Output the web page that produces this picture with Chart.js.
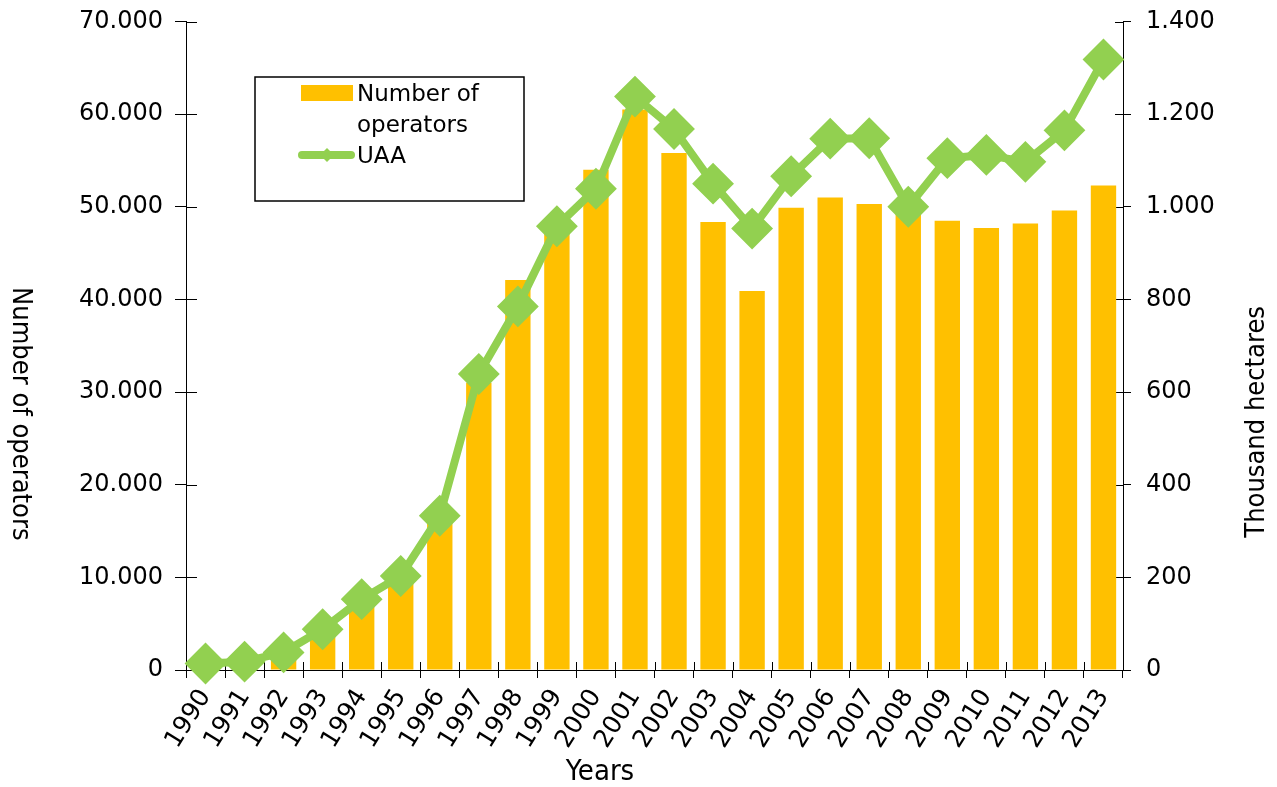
<!DOCTYPE html>
<html>
<head>
<meta charset="utf-8">
<script src="https://cdn.jsdelivr.net/npm/chart.js@4/dist/chart.umd.min.js"></script>
<style>
  html, body { margin: 0; padding: 0; background: #fff; }
  #wrap { position: relative; width: 1277px; height: 787px; }
</style>
</head>
<body>
<div id="wrap"><canvas id="c"></canvas></div>
<script>
const years = ['1990','1991','1992','1993','1994','1995','1996','1997','1998','1999','2000','2001','2002','2003','2004','2005','2006','2007','2008','2009','2010','2011','2012','2013'];
const operators = [300, 500, 1700, 4300, 7200, 9700, 16500, 31000, 42100, 47500, 54000, 60500, 55800, 48350, 40900, 49900, 51000, 50300, 49500, 48500, 47700, 48200, 49600, 52300];
const uaa = [14, 18, 38, 88, 153, 203, 333, 639, 785, 958, 1039, 1238, 1168, 1050, 953, 1066, 1147, 1148, 1000, 1105, 1112, 1097, 1165, 1318];
const seriesNames = ['Number of operators', 'UAA'];
const leftTickLabels = ['0','10.000','20.000','30.000','40.000','50.000','60.000','70.000'];
const rightTickLabels = ['0','200','400','600','800','1.000','1.200','1.400'];
const axisTitles = { x: 'Years', left: 'Number of operators', right: 'Thousand hectares' };

const BAR = '#FFC000';
const LINE = '#92D050';
const TICKFONT = { family: 'DejaVu Sans', size: 24 };
const TITLEFONT = '27px "DejaVu Sans Condensed"';

const innerTicks = {
  id: 'innerTicks',
  beforeDatasetsDraw(chart) {
    const ctx = chart.ctx;
    const x = chart.scales.x, y = chart.scales.y, y2 = chart.scales.y2;
    ctx.save();
    ctx.strokeStyle = '#000';
    ctx.lineWidth = 1;
    ctx.beginPath();
    for (let i = 0; i <= years.length; i++) {
      const px = Math.round(x.getPixelForValue(i - 0.5)) + 0.5;
      ctx.moveTo(px, x.top);
      ctx.lineTo(px, x.top - 8);
    }
    y.ticks.forEach((t, i) => {
      const py = Math.round(y.getPixelForTick(i)) + 0.5;
      ctx.moveTo(y.right, py);
      ctx.lineTo(y.right + 11, py);
    });
    y2.ticks.forEach((t, i) => {
      const py = Math.round(y2.getPixelForTick(i)) + 0.5;
      ctx.moveTo(y2.left, py);
      ctx.lineTo(y2.left - 8, py);
    });
    ctx.stroke();
    ctx.restore();
  }
};

const axisTitlePlugin = {
  id: 'axisTitlePlugin',
  afterDraw(chart) {
    const ctx = chart.ctx;
    const y = chart.scales.y;
    const ymid = y.top + (y.bottom - y.top) * 0.605;
    ctx.save();
    ctx.fillStyle = '#000';
    ctx.textAlign = 'center';
    ctx.textBaseline = 'middle';
    ctx.font = TITLEFONT;
    ctx.save();
    ctx.translate(20, ymid);
    ctx.rotate(Math.PI / 2);
    ctx.fillText(axisTitles.left, 0, 0);
    ctx.restore();
    ctx.save();
    ctx.translate(1257, ymid + 8);
    ctx.rotate(-Math.PI / 2);
    ctx.fillText(axisTitles.right, 0, 0);
    ctx.restore();
    ctx.font = '29px "DejaVu Sans Condensed"';
    ctx.fillText(axisTitles.x, 600, 772);
    ctx.restore();
  }
};

const boxLegend = {
  id: 'boxLegend',
  afterDraw(chart) {
    const ctx = chart.ctx;
    const barDs = chart.data.datasets.find(d => d.type === 'bar');
    const lineDs = chart.data.datasets.find(d => d.type === 'line');
    const bx = 255, by = 77, bw = 269, bh = 124;
    ctx.save();
    ctx.fillStyle = '#fff';
    ctx.fillRect(bx, by, bw, bh);
    ctx.strokeStyle = '#000';
    ctx.lineWidth = 1.5;
    ctx.strokeRect(bx, by, bw, bh);
    ctx.font = '23px "DejaVu Sans"';
    ctx.fillStyle = '#000';
    ctx.textBaseline = 'alphabetic';
    ctx.textAlign = 'left';
    const words = barDs.label.split(' ');
    const lines = [];
    let cur = '';
    words.forEach(w => {
      const t = cur ? cur + ' ' + w : w;
      if (ctx.measureText(t).width > 150 && cur) { lines.push(cur); cur = w; } else cur = t;
    });
    lines.push(cur);
    ctx.fillStyle = BAR;
    ctx.fillRect(301, 85, 52, 16);
    ctx.fillStyle = '#000';
    lines.forEach((l, i) => ctx.fillText(l, 357, 101 + i * 31));
    const ly = 155;
    ctx.strokeStyle = LINE;
    ctx.lineWidth = 8;
    ctx.lineCap = 'round';
    ctx.beginPath();
    ctx.moveTo(302, ly);
    ctx.lineTo(351, ly);
    ctx.stroke();
    ctx.fillStyle = LINE;
    ctx.beginPath();
    ctx.moveTo(327, ly - 7); ctx.lineTo(334, ly); ctx.lineTo(327, ly + 7); ctx.lineTo(320, ly);
    ctx.closePath(); ctx.fill();
    ctx.fillStyle = '#000';
    ctx.fillText(lineDs.label, 357, 101 + lines.length * 31);
    ctx.restore();
  }
};

function fixVertical(width) {
  return function (s) { s.width = width; s.paddingTop = 0; s.paddingBottom = 0; };
}

new Chart(document.getElementById('c'), {
  data: {
    labels: years,
    datasets: [
      {
        type: 'line',
        label: seriesNames[1],
        data: uaa,
        yAxisID: 'y2',
        borderColor: LINE,
        backgroundColor: LINE,
        borderWidth: 8,
        borderJoinStyle: 'round',
        pointStyle: 'rectRot',
        pointRadius: 19.5,
        pointHoverRadius: 19.5,
        pointBorderWidth: 2,
        pointBackgroundColor: LINE,
        pointBorderColor: LINE,
        tension: 0,
        clip: false,
        order: 0
      },
      {
        type: 'bar',
        label: seriesNames[0],
        data: operators,
        yAxisID: 'y',
        backgroundColor: BAR,
        borderWidth: 0,
        barPercentage: 0.65,
        categoryPercentage: 1.0,
        order: 1
      }
    ]
  },
  options: {
    responsive: true,
    maintainAspectRatio: false,
    animation: false,
    layout: { padding: { top: 19, left: 0, right: 0, bottom: 0 } },
    plugins: { legend: { display: false }, tooltip: { enabled: false } },
    scales: {
      x: {
        type: 'category',
        offset: true,
        grid: { display: true, drawOnChartArea: false, drawTicks: true, tickLength: 8, color: '#000', lineWidth: 1, offset: true },
        border: { display: true, color: '#000', width: 1 },
        ticks: { color: '#000', font: { family: 'DejaVu Sans', size: 25 }, minRotation: 58, maxRotation: 58, padding: 6, autoSkip: false },
        afterFit(s) { s.height = 117; s.paddingLeft = 0; s.paddingRight = 0; }
      },
      y: {
        type: 'linear',
        position: 'left',
        min: 0, max: 70000,
        grid: { display: true, drawOnChartArea: false, drawTicks: true, tickLength: 11, color: '#000', lineWidth: 1 },
        border: { display: true, color: '#000', width: 1 },
        ticks: { stepSize: 10000, color: '#000', font: TICKFONT, padding: 12,
                 callback: (v, i) => leftTickLabels[i] },
        afterFit: fixVertical(186)
      },
      y2: {
        type: 'linear',
        position: 'right',
        min: 0, max: 1400,
        grid: { display: true, drawOnChartArea: false, drawTicks: true, tickLength: 8, color: '#000', lineWidth: 1 },
        border: { display: true, color: '#000', width: 1 },
        ticks: { stepSize: 200, color: '#000', font: TICKFONT, padding: 15,
                 callback: (v, i) => rightTickLabels[i] },
        afterFit: fixVertical(154)
      }
    }
  },
  plugins: [innerTicks, axisTitlePlugin, boxLegend]
});
</script>
</body>
</html>
